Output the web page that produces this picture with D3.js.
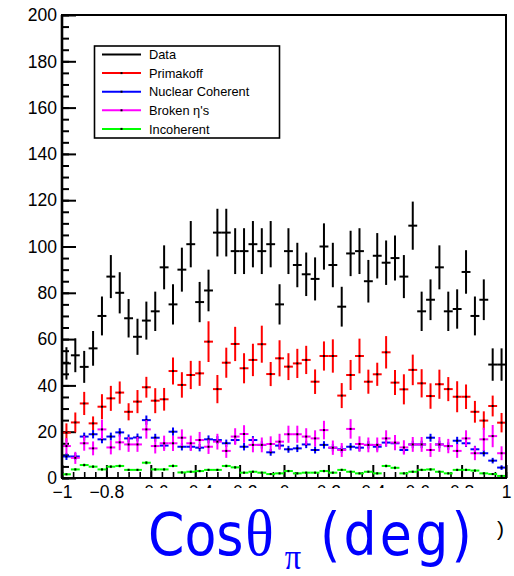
<!DOCTYPE html>
<html><head><meta charset="utf-8">
<script src="https://cdn.jsdelivr.net/npm/d3@7"></script>
<style>html,body{margin:0;padding:0;background:#fff;} svg{display:block;}</style>
</head><body>
<svg id="chart" width="514" height="576"></svg>
<script>
// 50 bins in cos(theta_pi) between -1 and 1
const binLow = -1;
const binWidth = 0.04;

const dataCounts = [49.5, 53, 48, 56, 70, 87, 80, 69, 61, 68, 72, 91, 75, 90, 101, 76, 81, 106, 106, 98,
  98, 101, 98, 101, 75, 98, 92, 88, 86, 100, 92, 74, 97, 98, 85, 96, 93, 95, 87, 109,
  72, 77, 91, 72, 73, 89, 70, 77, 49, 49];
const dataErrors = [7.0, 7.3, 6.9, 7.5, 8.4, 9.3, 8.9, 8.3, 7.8, 8.2, 8.5, 9.5, 8.7, 9.5, 10.0, 8.7, 9.0, 10.3, 10.3, 9.9,
  9.9, 10.0, 9.9, 10.0, 8.7, 9.9, 9.6, 9.4, 9.3, 10.0, 9.6, 8.6, 9.8, 9.9, 9.2, 9.8, 9.6, 9.7, 9.3, 10.4,
  8.5, 8.8, 9.5, 8.5, 8.5, 9.4, 8.4, 8.8, 7.0, 7.0];

const primakoff = [19.6, 24.0, 32.2, 23.6, 30.8, 34.4, 36.9, 28.6, 33.0, 39.2, 33.4, 34.0, 46.2, 40.2, 44.5, 45.2, 58.9, 38.4, 49.8, 57.9,
  47.4, 51.0, 57.8, 44.9, 51.7, 48.1, 49.5, 51.0, 41.6, 52.7, 52.7, 35.6, 44.5, 52.7, 41.6, 44.8, 54.3, 41.2, 38.3, 46.7,
  40.9, 35.4, 40.5, 38.4, 35.1, 35.1, 28.6, 24.8, 31.1, 23.9];
const primakoffErrors = [4.0, 4.3, 5.0, 3.0, 5.4, 5.4, 4.8, 3.7, 5.0, 4.5, 5.4, 4.9, 5.8, 5.5, 6.1, 5.4, 8.8, 6.1, 6.5, 7.4,
  6.5, 7.0, 8.0, 5.2, 7.8, 5.8, 6.3, 6.1, 5.3, 6.3, 7.2, 5.4, 6.5, 7.5, 5.2, 5.0, 7.0, 5.4, 6.5, 6.6,
  6.1, 5.5, 6.3, 5.2, 6.7, 5.3, 4.7, 4.0, 4.5, 4.2];

const nuclearCoherent = [9.3, 9.3, 17.9, 18.9, 16.7, 17.9, 19.7, 17.1, 17.5, 25.0, 17.4, 14.0, 20.0, 13.5, 13.5, 13.1, 16.7, 16.4, 15.0, 16.4,
  13.5, 16.4, 14.3, 11.1, 14.0, 12.4, 12.8, 14.5, 12.1, 14.3, 13.1, 12.4, 13.5, 13.1, 14.3, 13.5, 15.3, 15.0, 12.1, 14.5,
  14.5, 17.4, 14.5, 13.8, 16.1, 15.0, 12.4, 10.7, 7.5, 4.5];
const nuclearCoherentErrors = [1.5, 1.5, 1.7, 1.8, 1.7, 1.7, 1.8, 1.7, 1.7, 2.0, 1.7, 1.6, 1.8, 1.6, 1.6, 1.6, 1.7, 1.7, 1.6, 1.7,
  1.6, 1.7, 1.6, 1.5, 1.6, 1.5, 1.6, 1.6, 1.5, 1.6, 1.6, 1.5, 1.6, 1.6, 1.6, 1.6, 1.7, 1.6, 1.5, 1.6,
  1.6, 1.7, 1.6, 1.6, 1.7, 1.6, 1.5, 1.4, 1.2, 1.0];

const brokenEta = [13.8, 8.7, 15.0, 12.8, 21.0, 13.2, 15.4, 14.5, 14.5, 21.0, 13.8, 15.0, 15.0, 17.4, 15.0, 16.4, 13.5, 15.7, 11.7, 17.9,
  19.0, 14.3, 14.3, 14.7, 15.7, 18.9, 18.9, 17.9, 17.1, 20.7, 13.1, 12.1, 21.2, 14.7, 14.3, 14.3, 17.1, 15.3, 13.2, 14.5,
  14.5, 12.1, 14.5, 13.8, 11.7, 17.1, 10.7, 16.7, 18.1, 10.7];
const brokenEtaErrors = [3.4, 2.6, 3.2, 3.0, 4.2, 3.0, 3.4, 3.2, 3.2, 4.0, 3.2, 3.3, 3.3, 3.6, 3.3, 3.5, 3.1, 3.4, 3.0, 3.6,
  3.8, 3.2, 3.2, 3.3, 3.4, 3.7, 3.7, 3.6, 3.5, 4.0, 3.1, 3.0, 4.2, 3.3, 3.2, 3.2, 3.5, 3.3, 3.1, 3.2,
  3.2, 3.0, 3.2, 3.1, 3.0, 3.5, 3.0, 5.0, 4.8, 3.0];

const incoherent = [1.6, 3.7, 5.6, 4.9, 3.7, 4.9, 5.2, 3.5, 3.5, 6.6, 3.7, 3.7, 5.2, 2.4, 2.7, 3.0, 3.5, 3.5, 5.2, 4.6,
  2.3, 2.7, 2.3, 1.7, 2.0, 3.0, 2.0, 2.3, 2.3, 3.0, 2.3, 3.5, 2.7, 2.0, 2.7, 2.0, 5.2, 4.4, 2.0, 2.7,
  3.5, 3.7, 2.7, 2.0, 3.5, 3.5, 3.2, 2.0, 1.7, 0.9];
const incoherentErrors = [0.4, 0.5, 0.6, 0.6, 0.5, 0.6, 0.6, 0.5, 0.5, 0.7, 0.5, 0.5, 0.6, 0.4, 0.4, 0.5, 0.5, 0.5, 0.6, 0.6,
  0.4, 0.4, 0.4, 0.4, 0.4, 0.5, 0.4, 0.4, 0.4, 0.5, 0.4, 0.5, 0.4, 0.4, 0.4, 0.4, 0.6, 0.6, 0.4, 0.4,
  0.5, 0.5, 0.4, 0.4, 0.5, 0.5, 0.5, 0.4, 0.4, 0.3];

const seriesNames = ["Data", "Primakoff", "Nuclear Coherent", "Broken \u03b7's", "Incoherent"];
const seriesColors = ["#000000", "#ff0000", "#0000ff", "#ff00ff", "#00ff00"];

const yTickValues = [0, 20, 40, 60, 80, 100, 120, 140, 160, 180, 200];
const yTickLabels = ["0", "20", "40", "60", "80", "100", "120", "140", "160", "180", "200"];
const xTickValues = [-1, -0.8, -0.6, -0.4, -0.2, 0, 0.2, 0.4, 0.6, 0.8, 1];
const xTickLabels = ["\u22121", "\u22120.8", "\u22120.6", "\u22120.4", "\u22120.2", "0", "0.2", "0.4", "0.6", "0.8", "1"];
const yMinorStep = 5;
const xMinorStep = 0.05;

const series = [
  { values: dataCounts, errors: dataErrors, marker: false },
  { values: primakoff, errors: primakoffErrors, marker: true },
  { values: nuclearCoherent, errors: nuclearCoherentErrors, marker: true },
  { values: brokenEta, errors: brokenEtaErrors, marker: true },
  { values: incoherent, errors: incoherentErrors, marker: true }
].map((s, k) => Object.assign(s, { name: seriesNames[k], color: seriesColors[k] }));

const svg = d3.select("#chart");
const plot = { left: 62, right: 506, top: 15, bottom: 478 };

const x = d3.scaleLinear().domain([-1, 1]).range([plot.left, plot.right]);
const y = d3.scaleLinear().domain([0, 200]).range([plot.bottom, plot.top]);

svg.append("defs").append("clipPath").attr("id", "plotClip")
  .append("rect").attr("x", plot.left).attr("y", plot.top)
  .attr("width", plot.right - plot.left).attr("height", plot.bottom - plot.top);

const tickFont = "'Liberation Sans', Arial, Helvetica, sans-serif";

// minor ticks
const yMinor = d3.range(0, 200 + 1e-9, yMinorStep);
svg.append("g").attr("transform", `translate(${plot.left},0)`)
  .call(d3.axisLeft(y).tickValues(yMinor).tickSize(-7).tickFormat(""))
  .call(g => g.select(".domain").remove())
  .selectAll("line").attr("stroke-width", 2);
const xMinor = d3.range(0, 40 + 1).map(k => -1 + k * xMinorStep);
svg.append("g").attr("transform", `translate(0,${plot.bottom})`)
  .call(d3.axisBottom(x).tickValues(xMinor).tickSize(-6).tickFormat(""))
  .call(g => g.select(".domain").remove())
  .selectAll("line").attr("stroke-width", 1.6);

// major ticks and labels
svg.append("g").attr("transform", `translate(${plot.left},0)`)
  .call(d3.axisLeft(y).tickValues(yTickValues).tickSize(-14).tickPadding(5)
    .tickFormat((d, i) => yTickLabels[i]))
  .call(g => g.select(".domain").remove())
  .call(g => g.selectAll("line").attr("stroke-width", 2))
  .call(g => g.selectAll("text").attr("font-family", tickFont).attr("font-size", 17.5)
    .attr("fill", "#000").attr("dy", "0.33em"));

svg.append("g").attr("transform", `translate(0,${plot.bottom})`)
  .call(d3.axisBottom(x).tickValues(xTickValues).tickSize(-13).tickPadding(8)
    .tickFormat((d, i) => xTickLabels[i]))
  .call(g => g.select(".domain").remove())
  .call(g => g.selectAll("line").attr("stroke-width", 2))
  .call(g => g.selectAll("text").attr("font-family", tickFont).attr("font-size", 17.5)
    .attr("fill", "#000"));

// histogram error crosses
const marks = svg.append("g").attr("clip-path", "url(#plotClip)");
series.forEach(s => {
  const g = marks.append("g").attr("stroke", s.color).attr("stroke-width", 2).attr("fill", "none");
  s.values.forEach((v, i) => {
    const lo = binLow + i * binWidth, hi = lo + binWidth, mid = lo + binWidth / 2;
    const e = s.errors[i];
    g.append("line").attr("x1", x(lo)).attr("x2", x(hi)).attr("y1", y(v)).attr("y2", y(v));
    g.append("line").attr("x1", x(mid)).attr("x2", x(mid))
      .attr("y1", y(Math.max(0, v - e))).attr("y2", y(v + e));
  });
  if (s.marker) {
    marks.append("g").selectAll("rect").data(s.values).join("rect")
      .attr("x", (v, i) => x(binLow + (i + 0.5) * binWidth) - 1)
      .attr("y", v => y(v) - 1)
      .attr("width", 2).attr("height", 2).attr("fill", "#000");
  }
});

// frame
svg.append("rect").attr("x", plot.left).attr("y", plot.top)
  .attr("width", plot.right - plot.left).attr("height", plot.bottom - plot.top)
  .attr("fill", "none").attr("stroke", "#000").attr("stroke-width", 2);
svg.append("line").attr("x1", plot.left).attr("x2", plot.left)
  .attr("y1", plot.top).attr("y2", plot.bottom).attr("stroke", "#000").attr("stroke-width", 2.6);

// legend
const legend = svg.append("g");
legend.append("rect").attr("x", 94.5).attr("y", 46).attr("width", 185).attr("height", 92)
  .attr("fill", "#fff").attr("stroke", "#000").attr("stroke-width", 1.6);
series.forEach((s, k) => {
  const ly = 54.5 + k * 18.6;
  legend.append("line").attr("x1", 102).attr("x2", 141).attr("y1", ly).attr("y2", ly)
    .attr("stroke", s.color).attr("stroke-width", 2);
  if (s.marker) {
    legend.append("rect").attr("x", 120.5).attr("y", ly - 1).attr("width", 2).attr("height", 2).attr("fill", "#000");
  }
  legend.append("text").attr("x", 149).attr("y", ly + 4.6)
    .attr("font-family", tickFont).attr("font-size", 12.8).attr("fill", "#000").text(s.name);
});

// axis title panel
svg.append("rect").attr("x", 133).attr("y", 488).attr("width", 363).attr("height", 88).attr("fill", "#fff");
svg.append("text").attr("x", 497).attr("y", 536).attr("font-family", tickFont)
  .attr("font-size", 21).attr("fill", "#000").text(")");

// blue axis title, one text element with its parts as tspans
const sansTitle = "'Comic Sans MS', 'DejaVu Sans', sans-serif";
const serifTitle = "'Liberation Serif', 'Times New Roman', serif";
const title = svg.append("text")
  .attr("transform", "translate(148,555) scale(0.9,1)")
  .attr("fill", "#0000ff").attr("font-family", sansTitle).attr("font-size", 58);
title.append("tspan").attr("x", 0).attr("y", 0).text("Cos");
title.append("tspan").attr("x", 108).attr("y", 0).attr("font-family", serifTitle)
  .attr("font-size", 66).text("\u03b8");
title.append("tspan").attr("x", 152).attr("y", 14).attr("font-family", serifTitle)
  .attr("font-size", 36).text("\u03c0");
title.append("tspan").attr("x", 191).attr("y", 0).attr("letter-spacing", 3.6).text("(deg)");
</script>
</body></html>
